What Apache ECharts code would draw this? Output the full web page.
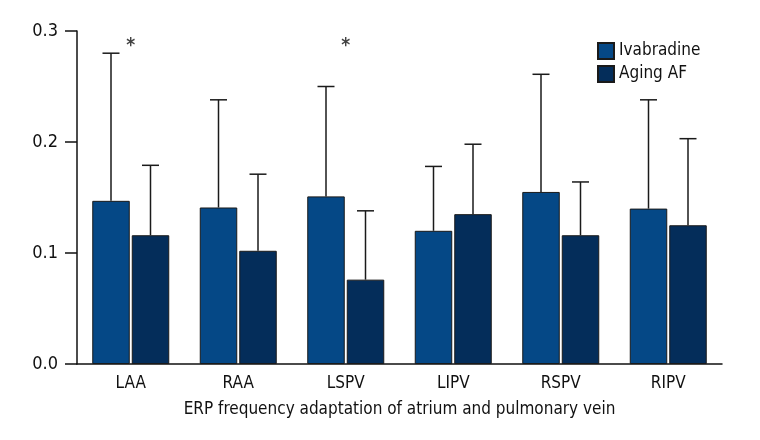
<!DOCTYPE html>
<html>
<head>
<meta charset="utf-8">
<script src="https://cdn.jsdelivr.net/npm/echarts@6/dist/echarts.min.js"></script>
<style>html,body{margin:0;padding:0;background:#fff}#c{width:760px;height:440px}</style>
</head>
<body>
<div id="c"></div>
<script>
var categories = ['LAA', 'RAA', 'LSPV', 'LIPV', 'RSPV', 'RIPV'];
var ivabradineMean = [0.147, 0.141, 0.151, 0.120, 0.155, 0.140];
var ivabradineUpper = [0.280, 0.238, 0.250, 0.178, 0.261, 0.238];
var agingMean = [0.116, 0.102, 0.076, 0.135, 0.116, 0.125];
var agingUpper = [0.179, 0.171, 0.138, 0.198, 0.164, 0.203];
var significant = ['LAA', 'LSPV'];
var sigLevel = 0.286;
var yTicks = [0.0, 0.1, 0.2, 0.3];

var FONT = '"Liberation Sans Narrow", "DejaVu Sans Condensed", sans-serif';
var BAR_W = 37.5, GAP = 2, CAP = 17;

function errSeries(name, upper, means, dir) {
  return {
    type: 'custom',
    name: name + ' SD',
    z: 1,
    silent: true,
    data: upper.map(function (u, i) { return [i, means[i], u]; }),
    renderItem: function (params, api) {
      var c = api.value(0);
      var base = api.coord([c, api.value(1)]);
      var top = api.coord([c, api.value(2)]);
      var x = base[0] + dir * (BAR_W + GAP) / 2;
      var st = { stroke: '#1a1a1a', lineWidth: 1.5 };
      return {
        type: 'group',
        children: [
          { type: 'line', shape: { x1: x, y1: base[1], x2: x, y2: top[1] }, style: st },
          { type: 'line', shape: { x1: x - CAP / 2, y1: top[1], x2: x + CAP / 2, y2: top[1] }, style: st }
        ]
      };
    }
  };
}

var chart = echarts.init(document.getElementById('c'), null, { renderer: 'canvas' });
chart.setOption({
  animation: false,
  backgroundColor: '#fff',
  textStyle: { fontFamily: FONT },
  grid: { left: 77, right: 38, top: 31, bottom: 76 },
  legend: {
    data: ['Ivabradine', 'Aging AF'],
    orient: 'vertical',
    left: 592, top: 37,
    itemWidth: 16, itemHeight: 16, itemGap: 5,
    textStyle: { fontFamily: FONT, fontSize: 17, color: '#111' },
    icon: 'rect'
  },
  xAxis: {
    type: 'category',
    data: categories,
    name: 'ERP frequency adaptation of atrium and pulmonary vein',
    nameLocation: 'middle',
    nameGap: 37,
    nameTextStyle: { fontFamily: FONT, fontSize: 17, color: '#111' },
    axisLine: { lineStyle: { color: '#111', width: 1.5 } },
    axisTick: { show: false },
    axisLabel: { fontFamily: FONT, fontSize: 17, color: '#111', margin: 11 }
  },
  yAxis: {
    type: 'value',
    min: yTicks[0], max: yTicks[yTicks.length - 1], interval: 0.1,
    axisLine: { show: true, lineStyle: { color: '#111', width: 1.5 } },
    axisTick: { show: true, inside: false, length: 12, lineStyle: { color: '#111', width: 1.5 } },
    splitLine: { show: false },
    axisLabel: { fontFamily: FONT, fontSize: 18, color: '#111', margin: 19,
      formatter: function (v) { return v.toFixed(1); } }
  },
  series: [
    {
      name: 'Ivabradine', type: 'bar', data: ivabradineMean,
      barWidth: BAR_W, barGap: (GAP / BAR_W * 100) + '%', z: 2,
      itemStyle: { color: '#054886', borderColor: '#1a1a1a', borderWidth: 1 }
    },
    {
      name: 'Aging AF', type: 'bar', data: agingMean,
      barWidth: BAR_W, z: 2,
      itemStyle: { color: '#042d5a', borderColor: '#1a1a1a', borderWidth: 1 }
    },
    errSeries('Ivabradine', ivabradineUpper, ivabradineMean, -1),
    errSeries('Aging AF', agingUpper, agingMean, 1),
    {
      type: 'scatter', name: 'sig', symbolSize: 0, silent: true,
      data: significant.map(function (c) { return [c, sigLevel]; }),
      label: { show: true, position: 'inside', formatter: '*', fontSize: 19, fontWeight: 'bold', color: '#111', fontFamily: FONT }
    }
  ]
});
</script>
</body>
</html>
